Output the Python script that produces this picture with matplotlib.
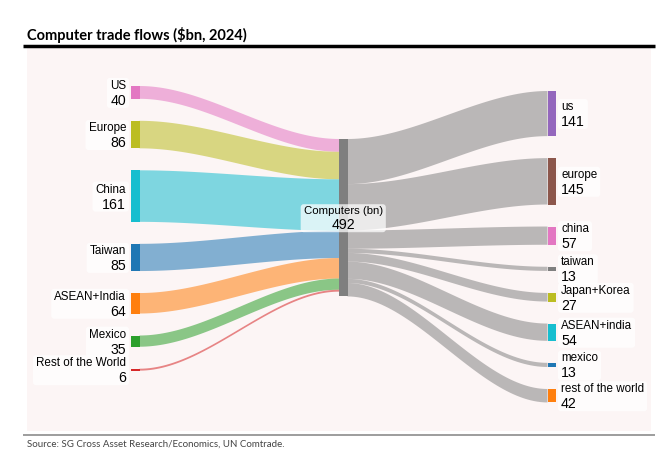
import numpy as np
import matplotlib.pyplot as plt
from matplotlib.patches import Rectangle, Polygon, FancyBboxPatch

# exporters (left) -> computers -> importers (right), $bn
src_names = ['US', 'Europe', 'China', 'Taiwan', 'ASEAN+India', 'Mexico', 'Rest of the World']
src_values = [40, 86, 161, 85, 64, 35, 6]
src_colors = ['#e377c2', '#bcbd22', '#17becf', '#1f77b4', '#ff7f0e', '#2ca02c', '#d62728']

dst_names = ['us', 'europe', 'china', 'taiwan', 'Japan+Korea', 'ASEAN+india', 'mexico', 'rest of the world']
dst_values = [141, 145, 57, 13, 27, 54, 13, 42]
dst_colors = ['#9467bd', '#8c564b', '#e377c2', '#7f7f7f', '#bcbd22', '#17becf', '#1f77b4', '#ff7f0e']

mid_name = 'Computers (bn)'
mid_value = 492

W, H = 663, 460
fig = plt.figure(figsize=(W / 100, H / 100), dpi=100)
ax = fig.add_axes([0, 0, 1, 1])
ax.set_xlim(0, W)
ax.set_ylim(H, 0)
ax.axis('off')

bg = '#fcf5f5'
ax.add_patch(Rectangle((27, 49), 624, 383, color=bg, lw=0, zorder=0))
ax.plot([23, 655], [47, 47], color='black', lw=2.5, solid_capstyle='butt')
ax.plot([23, 655], [435.5, 435.5], color='#8c8c8c', lw=1.2, solid_capstyle='butt')
ax.text(27, 40, 'Computer trade flows (\\$bn, 2024)', fontsize=10.5, fontweight='bold',
        family='Lato', ha='left', va='baseline')
ax.text(27, 447, 'Source: SG Cross Asset Research/Economics, UN Comtrade.', fontsize=7,
        family='Lato', color='#444444', ha='left', va='baseline')

scale = 0.32   # px per $bn
gap = 22
nw = 8.5
x_left, x_mid, x_right = 131, 339, 547.5


def stack(values, top):
    tops = []
    y = top
    for v in values:
        tops.append(y)
        y += v * scale + gap
    return tops


def link(x0, y0a, y0b, x1, y1a, y1b, color, alpha):
    t = np.linspace(0, 1, 60)
    xs = x0 + (x1 - x0) * t
    s = 3 * t ** 2 - 2 * t ** 3
    top = y0a + (y1a - y0a) * s
    bot = y0b + (y1b - y0b) * s
    pts = np.vstack([np.column_stack([xs, top]), np.column_stack([xs[::-1], bot[::-1]])])
    ax.add_patch(Polygon(pts, closed=True, facecolor=color, edgecolor='none', alpha=alpha, zorder=1))


labels = []


def label(x, yc, name, val, ha, name_size=8.4):
    t1 = ax.text(x, yc - 1.5, name, fontsize=name_size, family='Liberation Sans', ha=ha,
                 va='bottom', zorder=4)
    t2 = ax.text(x, yc + 0.5, str(val), fontsize=10.2, family='Liberation Sans', ha=ha,
                 va='top', zorder=4)
    labels.append((t1, t2))


left_tops = stack(src_values, 87)
right_tops = stack(dst_values, 92)
mid_top = 140

# left flows into the middle node
y_in = mid_top
for name, v, c, t in zip(src_names, src_values, src_colors, left_tops):
    h = v * scale
    link(x_left + nw, t, t + h, x_mid, y_in, y_in + h, c, 0.55)
    y_in += h
    ax.add_patch(Rectangle((x_left, t), nw, max(h, 1.5), color=c, lw=0, zorder=2))
    label(x_left - 5, t + h / 2, name, v, 'right')

# middle node to destinations
y_out = mid_top
for name, v, c, t in zip(dst_names, dst_values, dst_colors, right_tops):
    h = v * scale
    link(x_mid + nw, y_out, y_out + h, x_right, t, t + h, '#7f7f7f', 0.52)
    y_out += h
    ax.add_patch(Rectangle((x_right, t), nw, h, color=c, lw=0, zorder=2))
    label(x_right + nw + 5, t + h / 2, name, v, 'left')

mh = mid_value * scale
ax.add_patch(Rectangle((x_mid, mid_top), nw, mh, color='#7f7f7f', lw=0, zorder=2))
label(x_mid + nw / 2, mid_top + mh / 2 - 1, mid_name, mid_value, 'center', name_size=8.2)

# white rounded boxes behind each two-line label
fig.canvas.draw()
r = fig.canvas.get_renderer()
inv = ax.transData.inverted()
for t1, t2 in labels:
    bb1 = t1.get_window_extent(r)
    bb2 = t2.get_window_extent(r)
    x0 = min(bb1.x0, bb2.x0) - 3
    x1 = max(bb1.x1, bb2.x1) + 3
    y0 = min(bb1.y0, bb2.y0) - 1
    y1 = max(bb1.y1, bb2.y1) + 1
    (dx0, dy0), (dx1, dy1) = inv.transform([(x0, y0), (x1, y1)])
    ax.add_patch(FancyBboxPatch((dx0, dy1), dx1 - dx0, dy0 - dy1,
                                boxstyle='round,pad=0,rounding_size=3', fc='white', ec='none',
                                alpha=0.72, zorder=3))

fig.savefig('out.png', dpi=100)
